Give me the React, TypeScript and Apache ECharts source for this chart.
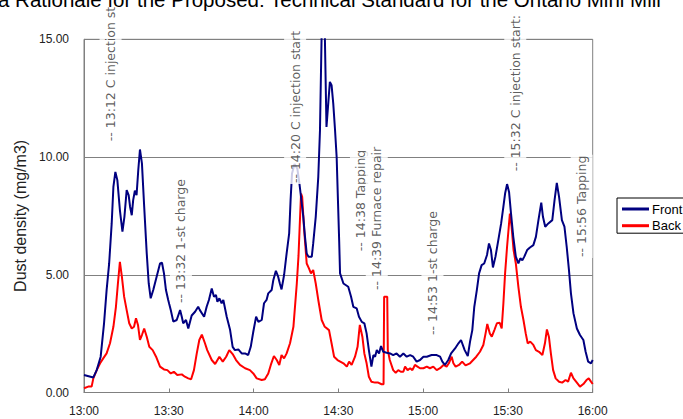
import React, { useEffect, useRef } from "react";
import * as echarts from "echarts";

// minutes after 13:00
const frontMinutes = [0,3.3,4.5,5.9,7.1,8.0,8.9,9.8,10.4,11.1,11.8,12.7,13.6,14.3,15.1,15.8,16.3,16.9,17.4,18.0,18.6,19.2,19.8,20.5,21.3,22.2,22.9,23.6,24.5,25.7,26.9,27.6,28.3,29.0,29.8,30.7,31.6,32.8,34.0,34.6,35.1,36.1,36.9,38.1,39.3,40.4,41.0,42.5,43.4,44.2,45.2,46.0,46.7,47.2,47.9,48.7,49.3,50.5,51.7,52.6,53.4,54.6,55.8,57.0,58.1,59.0,59.9,60.9,61.7,62.9,63.7,64.6,65.2,66.4,67.0,67.9,68.7,69.3,69.9,70.8,71.7,72.6,73.1,73.6,74.5,75.5,76.1,76.5,77.6,78.2,78.8,79.4,80.6,81.1,82.0,82.9,83.5,84.1,84.6,85.2,85.8,87.0,87.6,88.2,88.8,89.4,89.9,90.3,90.6,91.8,93.5,94.5,95.3,96.5,97.3,98.3,99.2,100.0,100.8,101.7,102.4,103.0,103.6,104.4,105.1,105.9,107.1,108.3,109.4,110.6,111.8,113.0,114.2,115.4,116.5,117.7,118.9,120.1,121.3,123.0,124.8,126.0,126.8,127.7,128.9,129.9,131.3,132.5,133.4,134.7,135.8,136.6,137.4,138.1,139.0,139.8,140.7,141.6,142.6,143.3,144.0,144.7,145.6,146.6,147.6,148.4,149.0,149.7,150.4,151.1,151.9,152.8,153.7,154.4,155.1,155.8,156.8,157.8,159.0,159.9,160.8,161.8,162.4,163.2,164.3,165.7,166.5,167.3,168.1,169.1,170.0,170.8,171.6,172.3,173.2,174.4,175.5,176.7,177.5,178.4,179.4,180];
const frontValues = [0.74,0.64,0.95,1.52,2.95,4.35,5.48,7.18,8.73,9.37,9.02,7.75,6.83,7.46,8.6,8.38,7.89,7.53,8.17,8.57,8.38,9.44,10.32,9.73,7.89,5.91,4.63,4.0,4.35,4.92,5.48,5.51,5.06,4.35,3.93,3.5,3.01,3.08,3.5,3.22,2.94,3.08,2.72,3.27,3.43,3.64,3.5,3.22,3.64,3.93,4.42,4.07,4.14,3.85,4.0,3.79,3.93,3.22,2.65,1.94,1.8,1.83,1.66,1.66,1.59,1.94,2.58,3.22,3.0,3.08,3.79,3.93,4.21,4.35,4.78,5.17,4.92,4.63,4.38,4.99,5.91,6.76,8.17,9.3,9.7,9.5,9.0,8.6,7.46,6.61,5.91,5.77,5.77,6.33,7.46,9.16,11.14,15.3,15.6,15.3,11.28,13.19,13.05,12.27,11.2,10.0,8.0,6.4,5.06,4.63,4.49,4.07,3.64,3.57,3.22,3.0,2.94,2.51,1.8,1.1,1.59,1.52,1.8,1.66,1.97,1.73,1.69,1.66,1.59,1.66,1.52,1.66,1.52,1.59,1.52,1.31,1.38,1.52,1.52,1.59,1.59,1.52,1.31,1.17,1.38,1.66,1.87,2.09,2.23,1.8,1.55,2.16,2.65,3.64,4.35,5.06,5.41,5.48,5.84,6.33,6.05,5.31,5.77,6.47,7.18,7.89,8.45,8.85,8.52,7.6,6.61,5.77,5.48,5.7,5.62,5.77,6.05,6.16,6.26,6.61,7.32,8.06,7.46,7.04,7.18,7.32,8.17,8.9,8.31,7.32,7.04,6.19,5.2,4.21,3.36,2.72,2.44,2.23,1.73,1.31,1.24,1.38];

const backMinutes = [0,1.5,2.7,3.3,4.5,5.7,6.8,8.0,9.2,10.4,11.3,12.0,12.7,13.4,14.2,15.1,16.0,16.9,17.7,18.4,19.1,19.8,20.5,21.3,22.2,23.1,24.3,25.5,26.9,28.3,29.5,30.7,31.8,33.0,34.6,35.7,36.9,37.9,38.9,39.9,40.8,41.7,42.8,43.6,45.2,46.4,47.9,49.1,50.3,51.4,52.6,53.8,55.2,57.0,58.7,59.9,61.1,62.9,64.0,65.2,66.1,67.2,68.2,69.1,69.9,70.8,71.7,72.9,74.1,75.3,75.9,76.3,76.8,77.2,77.9,78.8,79.6,80.3,81.1,82.0,82.9,84.1,85.2,86.7,87.6,88.5,89.7,91.8,93.0,93.8,94.7,95.9,96.8,97.6,98.5,99.2,100.0,100.8,101.7,103.0,104.1,105.3,106.0,106.2,107.3,107.5,108.2,109.4,110.3,111.2,112.1,113.0,113.6,114.5,115.4,116.2,117.1,118.0,118.9,120.1,121.3,122.4,123.6,124.8,126.0,127.2,128.3,129.1,130.1,130.7,131.5,132.7,133.8,135.0,136.6,137.7,138.8,140.1,141.3,142.1,142.7,143.6,144.3,145.2,146.1,147.1,147.8,148.4,149.0,149.7,150.3,150.7,151.3,152.0,152.8,153.7,154.6,155.5,156.3,157.0,157.9,159.0,159.9,161.0,162.2,163.1,163.8,164.5,165.2,166.0,166.9,168.1,169.2,170.4,171.3,172.3,173.2,174.4,175.5,176.7,177.8,178.6,179.4,180];
const backValues = [0.18,0.25,0.25,0.6,0.95,1.24,1.45,1.66,2.09,2.79,3.64,4.63,5.55,4.92,4.07,3.5,2.94,2.72,2.79,3.15,2.87,2.23,2.44,2.72,2.37,1.94,1.8,1.52,1.1,0.98,0.95,0.81,0.88,0.74,0.77,0.67,0.6,0.56,0.95,1.66,2.23,2.46,2.09,1.8,1.38,1.21,1.52,1.31,1.52,1.8,1.63,1.38,1.17,1.03,0.95,0.81,0.6,0.53,0.56,0.81,1.17,1.55,1.38,1.17,1.59,1.45,1.66,2.09,2.79,4.63,5.8,7.0,8.45,8.31,6.9,5.48,5.27,5.06,5.2,4.63,3.93,3.08,2.79,2.65,2.09,1.52,1.38,1.24,1.1,1.31,1.17,1.52,1.94,2.87,2.37,1.66,1.24,0.67,0.46,0.42,0.42,0.35,0.35,4.07,4.07,1.8,1.38,0.95,0.84,0.95,0.88,0.88,1.1,0.95,1.03,0.95,1.17,1.1,1.03,1.03,1.1,1.03,1.1,0.95,1.03,1.17,1.1,1.24,1.52,1.24,1.1,1.17,1.31,1.15,1.24,1.38,1.52,1.73,2.02,2.51,2.91,2.51,2.37,2.65,2.94,2.96,2.72,3.79,5.06,6.19,7.04,7.6,7.04,6.05,5.48,4.49,3.64,3.08,2.51,2.09,2.16,2.02,1.8,1.73,1.59,2.09,2.68,2.37,1.66,0.95,0.6,0.46,0.42,0.53,0.46,0.84,0.6,0.42,0.25,0.36,0.53,0.6,0.46,0.36];

const annotationTexts = [
  "-- 13:12 C injection st",
  "-- 13:32 1-st charge",
  "-- 14:20 C injection start",
  "-- 14:38 Tapping",
  "-- 14:39 Furnace repair",
  "-- 14:53 1-st charge",
  "-- 15:32 C injection start:",
  "-- 15:56 Tapping",
];
const annotationMinutes = [9.4, 34.3, 74.7, 98.0, 103.6, 123.3, 152.6, 176.1];
const annotationLevels = [10.63, 3.76, 8.85, 5.96, 4.31, 2.4, 9.35, 5.71];

const xTickMinutes = [0, 30, 60, 90, 120, 150, 180];
const seriesNames = ["Front", "Back"];
const titleText = "a Rationale for the Proposed: Technical Standard for the Ontario Mini Mill";

const fmtTime = (v: number) => {
  const h = 13 + Math.floor(v / 60);
  const m = Math.round(v % 60);
  return `${h}:${String(m).padStart(2, "0")}`;
};

export default function App() {
  const ref = useRef<HTMLDivElement>(null);
  useEffect(() => {
    if (!ref.current) return;
    const chart = echarts.init(ref.current, undefined, { renderer: "svg" });
    const front = frontMinutes.map((t, i) => [t, frontValues[i]]);
    const back = backMinutes.map((t, i) => [t, backValues[i]]);
    const notes = annotationMinutes.map((t, i) => ({ value: [t, annotationLevels[i]], name: annotationTexts[i] }));
    chart.setOption({
      animation: false,
      backgroundColor: "#fff",
      textStyle: { fontFamily: "Liberation Sans, Arial, sans-serif" },
      graphic: [
        {
          type: "text",
          x: -2,
          y: -11.5,
          z: 100,
          zlevel: 2,
          style: { text: titleText, fontSize: 20.5, fontFamily: "Liberation Sans, Arial", fill: "#000", verticalAlign: "top" },
        },
      ],
      grid: {
        left: 84,
        right: 90.3,
        top: 39.3,
        bottom: 26.5,
        show: true,
        borderColor: "#808080",
        borderWidth: 1,
      },
      legend: {
        data: seriesNames,
        orient: "vertical",
        left: 617,
        top: 198,
        padding: [4.5, 12, 1, 5],
        itemGap: 3.7,
        itemWidth: 27,
        itemHeight: 3,
        icon: "rect",
        borderColor: "#000",
        borderWidth: 1,
        backgroundColor: "#fff",
        textStyle: { fontSize: 13, color: "#000", lineHeight: 13, padding: [0, 0, 0, -2] },
      },
      xAxis: {
        type: "value",
        min: 0,
        max: 180,
        interval: 30,
        axisLine: { show: true, lineStyle: { color: "#808080" } },
        axisTick: { show: true, inside: true, length: 4, lineStyle: { color: "#808080" }, customValues: xTickMinutes },
        axisLabel: { formatter: (v: number) => fmtTime(v), fontSize: 12, color: "#222", margin: 12, customValues: xTickMinutes },
        splitLine: { show: false },
      },
      yAxis: {
        type: "value",
        min: 0,
        max: 15,
        interval: 5,
        name: "Dust density (mg/m3)",
        nameLocation: "middle",
        nameRotate: 90,
        nameGap: 54,
        nameTextStyle: { fontSize: 16, color: "#222" },
        axisLine: { show: true, lineStyle: { color: "#808080" } },
        axisTick: { show: false },
        axisLabel: { formatter: (v: number) => v.toFixed(2), fontSize: 12, color: "#222", margin: 15 },
        splitLine: { show: true, lineStyle: { color: "#808080", width: 1 } },
      },
      series: [
        {
          name: "Front",
          type: "line",
          data: front,
          showSymbol: false,
          symbol: "none",
          lineStyle: { color: "#000080", width: 2 },
          itemStyle: { color: "#000080" },
          z: 3,
        },
        {
          name: "Back",
          type: "line",
          data: back,
          showSymbol: false,
          symbol: "none",
          lineStyle: { color: "#ff0000", width: 2 },
          itemStyle: { color: "#ff0000" },
          z: 2,
        },
        {
          name: "notes",
          type: "scatter",
          data: notes,
          symbolSize: 0,
          zlevel: 1,
          z: 20,
          silent: true,
          label: {
            show: true,
            formatter: (p: any) => p.name,
            position: [0, 0],
            rotate: 90,
            align: "left",
            verticalAlign: "middle",
            fontFamily: "DejaVu Sans",
            fontSize: 12.5,
            color: "#333",
            backgroundColor: "#fff",
            lineHeight: 14,
            padding: [4, 1, 4, 1],
          },
        },
      ],
    });
    return () => chart.dispose();
  }, []);
  return <div ref={ref} style={{ position: "fixed", left: 0, top: 0, width: 683, height: 419 }} />;
}
